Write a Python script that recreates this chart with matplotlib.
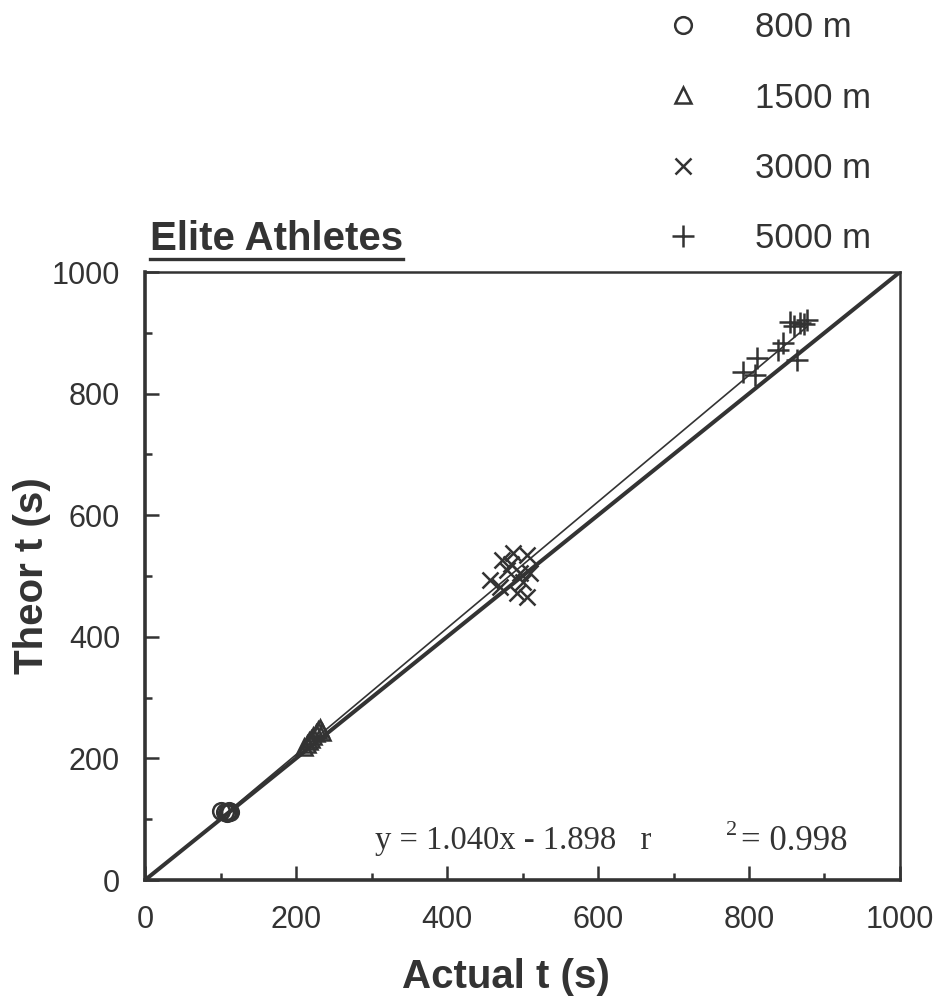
import numpy as np
import matplotlib
matplotlib.use("Agg")
from matplotlib import pyplot as plt
from matplotlib.lines import Line2D
from matplotlib.ticker import MultipleLocator

plt.rcParams['font.family'] = ['Liberation Sans', 'DejaVu Sans']
ink = '#333333'

# actual vs theoretical race times (s), elite athletes
t800_actual = [101, 106, 109, 110, 111, 112]
t800_theor = [113, 112, 111, 112, 113, 112]

t1500_actual = [210, 214, 217, 220, 223, 226, 229, 232, 235]
t1500_theor = [218, 224, 228, 232, 237, 241, 246, 250, 243]

t3000_actual = [457, 473, 487, 506, 479, 497, 470, 493, 506, 510, 485, 500]
t3000_theor = [493, 526, 538, 534, 510, 505, 482, 472, 465, 505, 520, 490]

t5000_actual = [792, 808, 811, 838, 845, 854, 860, 868, 873, 877, 864]
t5000_theor = [836, 831, 859, 872, 883, 918, 912, 916, 914, 921, 855]

fit_slope = 1.040
fit_icpt = -1.898
fit_r2 = 0.998

fig = plt.figure(figsize=(9.37, 10), dpi=100)
ax = fig.add_axes([0.1548, 0.12, 0.8057, 0.608])

# identity line and regression fit
ax.plot([0, 1000], [0, 1000], color=ink, lw=2.9, zorder=3)
all_x = t800_actual + t1500_actual + t3000_actual + t5000_actual
xf = np.array([min(all_x), max(all_x)])
ax.plot(xf, fit_slope * xf + fit_icpt, color=ink, lw=1.2, zorder=3)

mk = dict(color=ink, linestyle='none', markerfacecolor='none', zorder=4)
h1, = ax.plot(t800_actual, t800_theor, marker='o', markersize=12, markeredgewidth=1.8, label='800 m', **mk)
h2, = ax.plot(t1500_actual, t1500_theor, marker='^', markersize=12, markeredgewidth=1.8, label='1500 m', **mk)
h3, = ax.plot(t3000_actual, t3000_theor, marker='x', markersize=11, markeredgewidth=1.8, label='3000 m', **mk)
h4, = ax.plot(t5000_actual, t5000_theor, marker='+', markersize=16, markeredgewidth=1.8, label='5000 m', **mk)

ax.set_xlim(0, 1000)
ax.set_ylim(0, 1000)
ax.xaxis.set_major_locator(MultipleLocator(200))
ax.xaxis.set_minor_locator(MultipleLocator(100))
ax.yaxis.set_major_locator(MultipleLocator(200))
ax.yaxis.set_minor_locator(MultipleLocator(100))
ax.tick_params(which='both', direction='in', colors=ink, width=1.8)
ax.tick_params(which='major', length=10, pad=18, labelsize=22)
ax.tick_params(which='minor', length=5)
ax.tick_params(axis='y', which='major', pad=18)
for side in ['left', 'bottom']:
    ax.spines[side].set_linewidth(2.6)
for side in ['top', 'right']:
    ax.spines[side].set_linewidth(1.8)
for s in ax.spines.values():
    s.set_color(ink)

ax.set_xlabel('Actual t (s)', fontsize=29, fontweight='bold', color=ink)
ax.set_ylabel('Theor t (s)', fontsize=29, fontweight='bold', color=ink)
ax.xaxis.set_label_coords(0.478, -0.128)
ax.yaxis.set_label_coords(-0.124, 0.5)

# fit equation in serif, as written on the chart
serif = ['Liberation Serif', 'DejaVu Serif']
ax.text(0.305, 0.064, 'y = %.3fx - %.3f   r' % (fit_slope, -fit_icpt), transform=ax.transAxes,
        family=serif, fontsize=23.5, color=ink, va='center', ha='left')
ax.text(0.770, 0.081, '2', transform=ax.transAxes, family=serif, fontsize=16,
        color=ink, va='center', ha='left')
ax.text(0.790, 0.064, '= %.3f' % fit_r2, transform=ax.transAxes, family=serif,
        fontsize=25, color=ink, va='center', ha='left')

title = fig.text(0.160, 0.750, 'Elite Athletes', fontsize=29, fontweight='bold', color=ink,
                 ha='left', va='baseline')

fs_leg = 25
px = fs_leg * 100 / 72
fig.legend(handles=[h1, h2, h3, h4], loc='upper left', bbox_to_anchor=(0.687, 1.006),
           frameon=False, fontsize=fs_leg, labelspacing=1.07, handlelength=44 / px,
           handletextpad=50 / px, borderpad=0, labelcolor=ink)

# underline the title
fig.canvas.draw()
bb = title.get_window_extent().transformed(fig.transFigure.inverted())
fig.add_artist(Line2D([bb.x0, bb.x1], [0.741, 0.741], color=ink, lw=2.4, transform=fig.transFigure))

fig.savefig('out.png', dpi=100)
